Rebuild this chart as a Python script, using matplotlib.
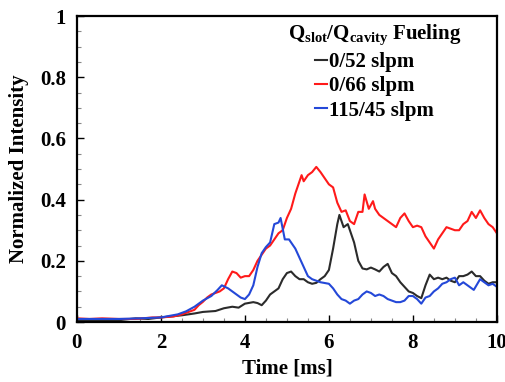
import numpy as np
import matplotlib.pyplot as plt

# =========================================================
# DATA
# =========================================================
t_black = [0.0, 0.5, 1.0, 1.4, 1.7, 2.0, 2.5, 2.8, 3.0, 3.3, 3.5, 3.7, 3.85, 4.0, 4.2,
           4.3, 4.4, 4.5, 4.6, 4.7, 4.8, 4.9, 5.0, 5.1, 5.2, 5.3, 5.4, 5.5, 5.6,
           5.7, 5.8, 5.9, 6.0, 6.1, 6.2, 6.25, 6.3, 6.35, 6.45, 6.5, 6.6, 6.7,
           6.8, 6.9, 7.0, 7.1, 7.2, 7.3, 7.4, 7.5, 7.6, 7.7, 7.8, 7.9, 8.0, 8.1,
           8.2, 8.3, 8.4, 8.5, 8.6, 8.7, 8.8, 8.9, 9.0, 9.1, 9.2, 9.3, 9.4, 9.5,
           9.6, 9.7, 9.8, 9.9, 10.0]
v_black = [0.005, 0.006, 0.006, 0.012, 0.010, 0.015, 0.022, 0.028, 0.033, 0.036, 0.045,
           0.050, 0.047, 0.060, 0.065, 0.062, 0.055, 0.070, 0.090, 0.100, 0.110,
           0.140, 0.160, 0.165, 0.150, 0.140, 0.140, 0.130, 0.125, 0.128, 0.140,
           0.150, 0.170, 0.240, 0.320, 0.350, 0.330, 0.310, 0.320, 0.300, 0.260,
           0.200, 0.175, 0.172, 0.178, 0.172, 0.165, 0.180, 0.190, 0.160, 0.150,
           0.130, 0.115, 0.100, 0.095, 0.085, 0.078, 0.120, 0.155, 0.140, 0.145,
           0.140, 0.145, 0.135, 0.130, 0.150, 0.150, 0.155, 0.165, 0.150, 0.150,
           0.135, 0.125, 0.130, 0.130]

t_red = [0.0, 0.3, 0.6, 1.0, 1.4, 1.8, 2.0, 2.3, 2.5, 2.8, 2.9, 3.0, 3.1, 3.2, 3.4,
         3.5, 3.6, 3.7, 3.8, 3.9, 4.0, 4.1, 4.2, 4.3, 4.4, 4.5, 4.6, 4.7, 4.8,
         4.9, 5.0, 5.1, 5.2, 5.3, 5.35, 5.4, 5.45, 5.5, 5.6, 5.7, 5.8, 5.9, 6.0,
         6.1, 6.2, 6.3, 6.4, 6.5, 6.6, 6.7, 6.8, 6.85, 6.95, 7.05, 7.1, 7.2, 7.3,
         7.4, 7.5, 7.6, 7.7, 7.8, 7.9, 8.0, 8.1, 8.2, 8.3, 8.4, 8.5, 8.6, 8.7,
         8.8, 8.9, 9.0, 9.1, 9.2, 9.3, 9.4, 9.5, 9.6, 9.7, 9.8, 9.9, 10.0]
v_red = [0.012, 0.010, 0.012, 0.010, 0.010, 0.015, 0.015, 0.018, 0.025, 0.040, 0.055,
         0.066, 0.080, 0.090, 0.100, 0.110, 0.140, 0.165, 0.160, 0.145, 0.150,
         0.150, 0.170, 0.200, 0.220, 0.240, 0.250, 0.270, 0.290, 0.300, 0.340,
         0.370, 0.420, 0.460, 0.480, 0.460, 0.470, 0.480, 0.490, 0.507, 0.490,
         0.470, 0.450, 0.440, 0.390, 0.360, 0.365, 0.330, 0.320, 0.360, 0.360,
         0.417, 0.370, 0.395, 0.370, 0.350, 0.340, 0.330, 0.320, 0.310, 0.340,
         0.355, 0.330, 0.310, 0.315, 0.310, 0.280, 0.260, 0.240, 0.270, 0.290,
         0.310, 0.305, 0.300, 0.300, 0.320, 0.330, 0.360, 0.340, 0.365, 0.340,
         0.320, 0.310, 0.290]

t_blue = [0.0, 0.5, 1.0, 1.5, 2.0, 2.4, 2.6, 2.8, 3.0, 3.2, 3.35, 3.45, 3.6, 3.8, 3.9,
          4.0, 4.1, 4.2, 4.3, 4.4, 4.5, 4.6, 4.7, 4.8, 4.85, 4.95, 5.05, 5.1, 5.2,
          5.3, 5.4, 5.5, 5.6, 5.8, 6.0, 6.1, 6.2, 6.3, 6.4, 6.5, 6.6, 6.7, 6.8,
          6.9, 7.0, 7.1, 7.2, 7.3, 7.4, 7.5, 7.6, 7.7, 7.8, 7.9, 8.0, 8.1, 8.2,
          8.3, 8.4, 8.5, 8.6, 8.7, 8.8, 8.9, 9.0, 9.1, 9.2, 9.3, 9.45, 9.6, 9.7,
          9.8, 9.9, 10.0]
v_blue = [0.010, 0.010, 0.010, 0.012, 0.015, 0.025, 0.035, 0.050, 0.070, 0.085, 0.105,
          0.120, 0.110, 0.090, 0.080, 0.075, 0.090, 0.120, 0.180, 0.225, 0.245,
          0.260, 0.320, 0.325, 0.340, 0.270, 0.270, 0.260, 0.240, 0.210, 0.180,
          0.150, 0.140, 0.130, 0.125, 0.110, 0.090, 0.075, 0.070, 0.060, 0.070,
          0.075, 0.090, 0.100, 0.095, 0.085, 0.090, 0.085, 0.075, 0.070, 0.065,
          0.065, 0.070, 0.085, 0.085, 0.075, 0.060, 0.080, 0.085, 0.100, 0.110,
          0.125, 0.130, 0.140, 0.145, 0.120, 0.130, 0.120, 0.105, 0.140, 0.130,
          0.120, 0.125, 0.115]

labels = ["0/52 slpm", "0/66 slpm", "115/45 slpm"]
colors = ["#2b2b2b", "#ff1a1a", "#2448d8"]

# =========================================================
# PLOT
# =========================================================
plt.rcParams["font.family"] = "Liberation Serif"
plt.rcParams["font.weight"] = "bold"
plt.rcParams["mathtext.fontset"] = "custom"
plt.rcParams["mathtext.bf"] = "Liberation Serif:bold"
plt.rcParams["mathtext.rm"] = "Liberation Serif:bold"

fig = plt.figure(figsize=(5.06, 3.82), dpi=100)
ax = fig.add_axes([0.152, 0.157, 0.83, 0.801])

for t, v, lab, c in zip([t_black, t_red, t_blue], [v_black, v_red, v_blue], labels, colors):
    ax.plot(t, v, color=c, lw=1.5, label=lab)

ax.set_xlim(0, 10)
ax.set_ylim(0, 1)
ax.set_xticks(np.arange(0, 11, 2))
ax.set_xticks(np.arange(0, 10.01, 0.5), minor=True)
ax.set_yticks(np.arange(0, 1.01, 0.2))
ax.set_yticks(np.arange(0, 1.001, 0.05), minor=True)
ax.set_yticklabels(["0", "0.2", "0.4", "0.6", "0.8", "1"])
ax.tick_params(which="both", direction="in", top=False, right=False, labelsize=15, pad=8)
ax.tick_params(which="major", length=5, width=1)
ax.tick_params(which="minor", length=3, width=0.8, color="#888888")
for sp in ax.spines.values():
    sp.set_linewidth(1.6)

ax.set_xlabel("Time [ms]", fontsize=15, fontweight="bold", labelpad=4)
ax.set_ylabel("Normalized Intensity", fontsize=15, fontweight="bold", labelpad=8)

leg = ax.legend(title=r"Q$_{\mathbf{slot}}$/Q$_{\mathbf{cavity}}$ Fueling",
                loc="upper right", bbox_to_anchor=(0.95, 1.025), frameon=False,
                fontsize=15, title_fontsize=15, handlelength=0.6, handletextpad=0.1,
                labelspacing=0.2, borderaxespad=0.3)
leg.get_title().set_fontweight("bold")
for txt in leg.get_texts():
    txt.set_fontweight("bold")

fig.savefig("out.png", dpi=100)
